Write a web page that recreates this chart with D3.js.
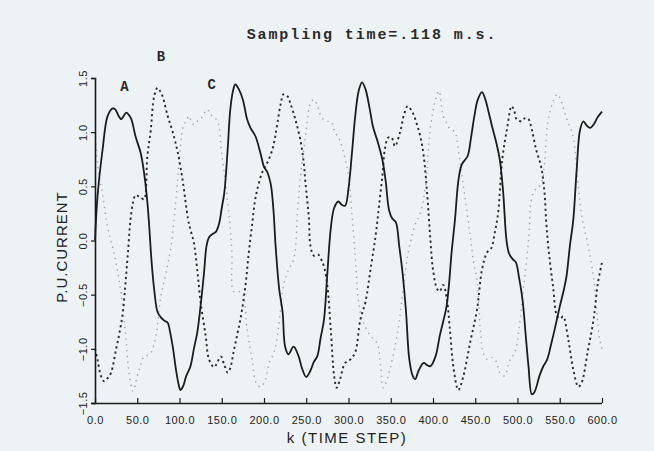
<!DOCTYPE html>
<html>
<head>
<meta charset="utf-8">
<script src="https://cdn.jsdelivr.net/npm/d3@7"></script>
<style>
  body { margin: 0; background: #edf3f5; }
  svg { display: block; }
</style>
</head>
<body>
<div id="chart"></div>
<script>
// phase A (solid) : time step / per-unit current
var stepsA = [0, 3, 9, 15, 21, 24, 28, 31, 34, 37, 40, 43, 48, 54, 58, 62, 64, 67, 70, 74, 78, 82, 86, 89, 92, 96, 99, 101, 104, 108, 113, 117, 121, 125, 129, 132, 135, 139, 143, 147, 150, 153, 157, 160, 163, 166, 170, 175, 180, 184, 190, 196, 200, 204, 208, 211, 214, 218, 222, 225, 229, 235, 241, 245, 250, 255, 259, 263, 267, 271, 275, 279, 283, 288, 292, 296, 300, 304, 308, 312, 316, 320, 325, 329, 335, 340, 344, 348, 352, 356, 360, 364, 368, 372, 376, 379, 383, 389, 393, 397, 403, 408, 412, 416, 419, 422, 426, 430, 434, 441, 445, 449, 453, 458, 462, 466, 470, 475, 479, 483, 487, 490, 494, 498, 502, 506, 510, 513, 517, 520, 526, 530, 535, 540, 544, 550, 555, 558, 562, 566, 570, 574, 578, 582, 586, 590, 595, 600];
var currentA = [0.0, 0.41, 0.84, 1.15, 1.22, 1.21, 1.15, 1.12, 1.15, 1.18, 1.16, 1.12, 0.96, 0.81, 0.63, 0.35, 0.15, -0.2, -0.45, -0.66, -0.71, -0.74, -0.76, -0.85, -0.98, -1.2, -1.33, -1.38, -1.35, -1.25, -1.16, -1.0, -0.85, -0.6, -0.3, -0.05, 0.03, 0.06, 0.08, 0.16, 0.3, 0.44, 0.84, 1.2, 1.37, 1.44, 1.4, 1.3, 1.12, 1.04, 0.96, 0.8, 0.68, 0.63, 0.52, 0.3, -0.08, -0.45, -0.66, -0.98, -1.05, -0.98, -1.07, -1.18, -1.26, -1.2, -1.12, -1.07, -0.9, -0.73, -0.3, 0.11, 0.3, 0.36, 0.33, 0.32, 0.48, 0.8, 1.15, 1.38, 1.46, 1.4, 1.22, 1.05, 0.9, 0.75, 0.55, 0.28, 0.2, 0.17, -0.05, -0.3, -0.65, -1.1, -1.25, -1.28, -1.2, -1.13, -1.15, -1.16, -1.07, -0.88, -0.75, -0.61, -0.4, -0.11, 0.19, 0.55, 0.7, 0.78, 0.95, 1.15, 1.3, 1.37, 1.3, 1.18, 1.05, 0.9, 0.75, 0.45, 0.0, -0.12, -0.17, -0.2, -0.35, -0.55, -0.9, -1.16, -1.42, -1.4, -1.25, -1.17, -1.1, -0.95, -0.82, -0.61, -0.45, -0.33, -0.05, 0.19, 0.65, 1.02, 1.1, 1.06, 1.04, 1.07, 1.14, 1.19];

// phase B (dashed)
var stepsB = [0, 3, 7, 11, 15, 19, 25, 29, 33, 36, 39, 42, 45, 48, 51, 54, 58, 62, 66, 70, 74, 77, 80, 86, 92, 98, 104, 110, 113, 117, 121, 125, 131, 135, 141, 145, 149, 153, 157, 160, 164, 168, 172, 178, 182, 186, 189, 192, 198, 204, 210, 213, 216, 220, 223, 228, 231, 237, 243, 247, 249, 253, 255, 259, 264, 268, 271, 275, 279, 283, 286, 290, 296, 302, 308, 314, 320, 326, 332, 336, 340, 343, 347, 351, 355, 361, 366, 370, 376, 381, 385, 389, 393, 397, 400, 405, 408, 412, 416, 420, 424, 430, 436, 444, 452, 458, 464, 469, 473, 477, 482, 488, 493, 496, 499, 505, 509, 513, 517, 522, 528, 532, 534, 537, 542, 547, 551, 554, 560, 566, 572, 576, 583, 590, 595, 600];
var currentB = [-1.0, -1.1, -1.25, -1.3, -1.27, -1.22, -1.0, -0.85, -0.66, -0.4, -0.11, 0.19, 0.35, 0.42, 0.41, 0.4, 0.38, 0.78, 1.02, 1.33, 1.41, 1.38, 1.33, 1.15, 1.0, 0.81, 0.54, 0.2, 0.1, -0.02, -0.27, -0.57, -0.88, -1.1, -1.17, -1.12, -1.07, -1.15, -1.22, -1.18, -1.03, -0.88, -0.73, -0.42, -0.11, 0.15, 0.35, 0.47, 0.63, 0.72, 0.84, 0.95, 1.09, 1.27, 1.35, 1.33, 1.27, 1.12, 0.93, 0.72, 0.54, 0.22, -0.05, -0.14, -0.13, -0.18, -0.24, -0.42, -0.82, -1.25, -1.36, -1.28, -1.13, -1.1, -1.03, -0.73, -0.57, -0.27, 0.04, 0.31, 0.59, 0.84, 0.95, 0.95, 0.87, 1.0, 1.17, 1.24, 1.18, 1.07, 0.96, 0.78, 0.44, 0.0, -0.27, -0.45, -0.47, -0.41, -0.52, -0.82, -1.16, -1.38, -1.25, -0.94, -0.64, -0.27, -0.11, -0.07, 0.07, 0.25, 0.75, 1.05, 1.24, 1.2, 1.12, 1.1, 1.13, 1.12, 1.02, 0.84, 0.68, 0.44, 0.17, -0.1, -0.42, -0.7, -0.72, -0.7, -0.91, -1.19, -1.35, -1.31, -1.03, -0.73, -0.4, -0.2];

// phase C (faint dotted)
var stepsC = [0, 4, 9, 15, 21, 26, 31, 36, 40, 45, 50, 54, 58, 62, 66, 72, 78, 84, 90, 96, 101, 105, 108, 111, 114, 117, 121, 125, 129, 133, 136, 139, 145, 150, 155, 159, 162, 164, 170, 175, 180, 186, 191, 196, 201, 206, 212, 217, 223, 229, 235, 240, 244, 249, 252, 255, 259, 263, 267, 270, 275, 279, 284, 290, 296, 300, 304, 308, 311, 315, 320, 326, 334, 338, 341, 345, 349, 355, 360, 365, 371, 379, 385, 391, 397, 403, 407, 412, 416, 420, 426, 430, 436, 444, 448, 452, 456, 460, 465, 470, 475, 479, 485, 490, 497, 502, 507, 513, 517, 522, 528, 532, 536, 542, 547, 552, 557, 562, 566, 572, 576, 583, 590, 597, 600];
var currentC = [1.0, 0.65, 0.42, 0.12, -0.07, -0.25, -0.5, -0.85, -1.2, -1.39, -1.25, -1.15, -1.07, -1.06, -1.04, -0.88, -0.51, -0.3, -0.05, 0.4, 0.85, 1.07, 1.1, 1.15, 1.1, 1.07, 1.1, 1.12, 1.17, 1.21, 1.17, 1.15, 1.1, 0.8, 0.5, 0.2, -0.1, -0.47, -0.47, -0.5, -0.82, -1.1, -1.32, -1.35, -1.3, -1.13, -1.03, -0.82, -0.42, -0.27, -0.18, 0.3, 0.65, 0.95, 1.15, 1.27, 1.3, 1.25, 1.15, 1.12, 1.1, 1.1, 1.0, 0.92, 0.75, 0.6, 0.25, -0.15, -0.5, -0.7, -0.8, -0.88, -0.95, -1.16, -1.36, -1.3, -1.19, -0.98, -0.75, -0.42, -0.1, 0.15, 0.25, 0.5, 1.05, 1.3, 1.38, 1.15, 1.09, 1.03, 1.0, 0.83, 0.5, 0.05, -0.2, -0.36, -0.82, -1.05, -1.1, -1.08, -1.12, -1.22, -1.25, -1.12, -1.03, -0.8, -0.45, 0.0, 0.4, 0.48, 0.52, 0.72, 1.1, 1.28, 1.35, 1.28, 1.15, 1.05, 0.95, 0.5, 0.23, -0.03, -0.34, -0.9, -1.0];

var xTicks = [0, 50, 100, 150, 200, 250, 300, 350, 400, 450, 500, 550, 600];
var yTicks = [-1.5, -1.0, -0.5, 0.0, 0.5, 1.0, 1.5];
var phaseLabels = ["A", "B", "C"];

var width = 654, height = 451;

var svg = d3.select("#chart")
    .append("svg")
        .attr("width", width)
        .attr("height", height);

svg.append("rect")
    .attr("width", width)
    .attr("height", height)
    .attr("fill", "#edf3f5");

// scales
var x = d3.scaleLinear().domain([0, 600]).range([95, 602]);
var y = d3.scaleLinear().domain([-1.5, 1.5]).range([403, 78]);

function zip(ks, vs) {
    return ks.map(function(k, i) { return { k: k, v: vs[i] }; });
}

var line = d3.line()
    .x(function(d) { return x(d.k); })
    .y(function(d) { return y(d.v); })
    .curve(d3.curveCatmullRom.alpha(0.5));

// phase C - faint dots
svg.append("path")
    .datum(zip(stepsC, currentC))
    .attr("d", line)
    .attr("fill", "none")
    .attr("stroke", "#9aa0a4")
    .attr("stroke-width", 1.4)
    .attr("stroke-dasharray", "1.3,4.5");

// phase B - dashed
svg.append("path")
    .datum(zip(stepsB, currentB))
    .attr("d", line)
    .attr("fill", "none")
    .attr("stroke", "#2a2a2a")
    .attr("stroke-width", 1.9)
    .attr("stroke-dasharray", "2.2,3.2");

// phase A - solid
svg.append("path")
    .datum(zip(stepsA, currentA))
    .attr("d", line)
    .attr("fill", "none")
    .attr("stroke", "#1c1c1c")
    .attr("stroke-width", 1.8);

// x axis
var xAxis = svg.append("g")
    .attr("transform", "translate(0," + y(-1.5) + ")")
    .call(d3.axisBottom(x).tickValues(xTicks).tickSize(-5).tickPadding(13)
        .tickFormat(d3.format(".1f")));
xAxis.select(".domain").attr("d", "M92,0.5H602").attr("stroke", "#1c1c1c").attr("stroke-width", 1.6);
xAxis.selectAll(".tick line").attr("stroke", "#1c1c1c").attr("stroke-width", 1.2);
xAxis.selectAll("text")
    .attr("font-family", "Liberation Sans, Arial, sans-serif")
    .attr("font-size", 11)
    .attr("fill", "#222")
    .attr("letter-spacing", "0.5px");

// y axis
var yAxis = svg.append("g")
    .attr("transform", "translate(" + x(0) + ",0)")
    .call(d3.axisLeft(y).tickValues(yTicks).tickSize(4).tickFormat(d3.format(".1f")));
yAxis.select(".domain").attr("stroke", "#1c1c1c").attr("stroke-width", 1.6);
yAxis.selectAll(".tick line").attr("stroke", "#1c1c1c").attr("stroke-width", 1.2);
yAxis.selectAll("text")
    .attr("font-family", "Liberation Sans, Arial, sans-serif")
    .attr("font-size", 11)
    .attr("fill", "#222")
    .attr("letter-spacing", "0.5px")
    .attr("text-anchor", "middle")
    .attr("x", null)
    .attr("dy", null)
    .attr("transform", "translate(-12,0) rotate(-90)")
    .attr("dominant-baseline", "central");

// axis titles
svg.append("text")
    .attr("transform", "translate(61,247) rotate(-90)")
    .attr("text-anchor", "middle")
    .attr("dominant-baseline", "central")
    .attr("font-family", "Liberation Sans, Arial, sans-serif")
    .attr("font-size", 15)
    .attr("letter-spacing", "1px")
    .attr("fill", "#222")
    .text("P.U.CURRENT");

svg.append("text")
    .attr("x", 347)
    .attr("y", 443)
    .attr("text-anchor", "middle")
    .attr("font-family", "Liberation Sans, Arial, sans-serif")
    .attr("font-size", 15)
    .attr("letter-spacing", "1.5px")
    .attr("fill", "#222")
    .text("k (TIME STEP)");

// title
svg.append("text")
    .attr("x", 372)
    .attr("y", 39)
    .attr("text-anchor", "middle")
    .attr("font-family", "Liberation Mono, Courier New, monospace")
    .attr("font-weight", "bold")
    .attr("font-size", 15)
    .attr("letter-spacing", "1.9px")
    .attr("fill", "#2a2a2a")
    .text("Sampling time=.118 m.s.");

// phase labels placed at data positions
var labelPos = [{ k: 35, v: 1.42 }, { k: 78, v: 1.69 }, { k: 138, v: 1.44 }];
svg.selectAll(".phase")
    .data(phaseLabels)
    .enter().append("text")
    .attr("class", "phase")
    .attr("x", function(d, i) { return x(labelPos[i].k); })
    .attr("y", function(d, i) { return y(labelPos[i].v); })
    .attr("text-anchor", "middle")
    .attr("dominant-baseline", "central")
    .attr("font-family", "Liberation Mono, Courier New, monospace")
    .attr("font-weight", "bold")
    .attr("font-size", 14)
    .attr("fill", "#2a2a2a")
    .text(function(d) { return d; });
</script>
</body>
</html>
